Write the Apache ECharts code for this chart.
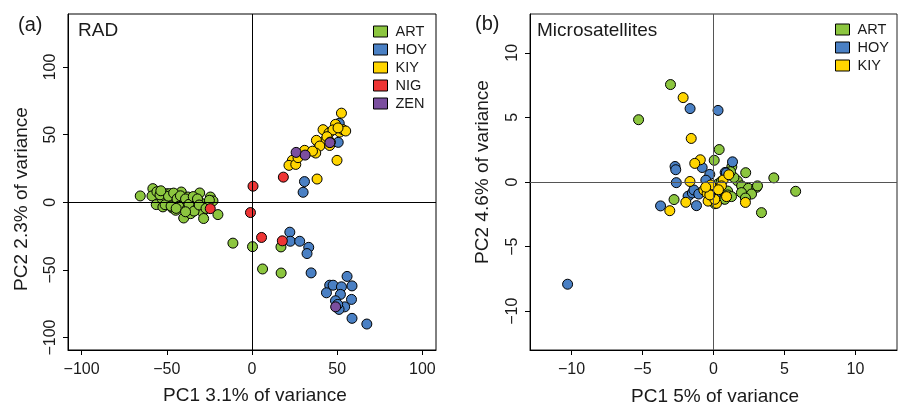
<!DOCTYPE html>
<html>
<head>
<meta charset="utf-8">
<script src="https://cdn.jsdelivr.net/npm/echarts@6/dist/echarts.min.js"></script>
<style>
  html, body { margin: 0; padding: 0; background: #fff; }
  #chart { width: 898px; height: 405px; }
</style>
</head>
<body>
<div id="chart"></div>
<script>
// nhóm mẫu và màu
const groupsRAD = ['ART', 'HOY', 'KIY', 'NIG', 'ZEN'];
const groupsMsat = ['ART', 'HOY', 'KIY'];
const groupColors = {ART: '#8cc63f', HOY: '#4a80c4', KIY: '#ffd500', NIG: '#ee3535', ZEN: '#7b4f9f'};

// tick của các trục
const radXTicks = [-100, -50, 0, 50, 100];
const radYTicks = [-100, -50, 0, 50, 100];
const msatXTicks = [-10, -5, 0, 5, 10];
const msatYTicks = [-10, -5, 0, 5, 10];

// (a) RAD: [PC1, PC2]
const radART = [
    [-65.6, 4.7], [-58.2, 10.1], [-58.7, 4.7], [-55.8, 7.8], [-56.2, -1.7], [-52.8, 2.7], [-52.3, -3.4],
    [-50.3, 6.4], [-49.7, -1], [-48.3, 6.4], [-47.3, 3.9], [-46.7, -4.2], [-45.4, 0.2], [-44.8, -5.9],
    [-41.5, 7.6], [-40.5, -1.7], [-40.1, -11.6], [-37.6, 3.9], [-36.6, 0.2], [-35.6, -3.4], [-36, -8.4],
    [-33.6, 1], [-32.6, -3.9], [-30.7, 6.9], [-30.1, -0.5], [-29.1, -7.2], [-28.4, -12], [-24.4, 3.9],
    [-22.9, 1], [-20, -9.1], [-54, 5.5], [-51, -1.8], [-49, 4.5], [-47.5, -2.8], [-46, 6.8], [-44, 2.5],
    [-43, -3], [-42, 4.8], [-39, 2.5], [-38, -5], [-37, -1.5], [-34.5, 4.2], [-34, -6.5], [-32, 2.5],
    [-31, -2], [-27, -4.5], [-25, 1.5], [-53.5, 8.5], [-44.5, -4.5], [-39, -7],
    [-11.2, -30.2], [0.3, -32.8], [6.2, -49.3], [17, -33], [17.1, -52.3]
];
const radHOY = [
    [51.2, 58.4], [50.6, 44.3], [39.2, 43.6], [30.8, 15.3], [30, 7.4],
    [22.2, -22.1], [22.5, -28.8], [28, -28.8], [33.3, -33.3], [32.3, -37.9], [34.7, -52.2],
    [55.8, -54.8], [45.6, -61.3], [47.6, -61.3], [52.5, -62.5], [58.7, -61.8], [43.7, -66.9],
    [51.9, -68.1], [58.4, -71.8], [49, -72.8], [54.4, -77.3], [51.1, -79.2], [58.7, -85.8],
    [67.4, -90], [50.3, -75.5]
];
const radKIY = [
    [52.5, 65.9], [41.7, 53.7], [49, 57.6], [45.2, 51.2], [43.3, 46.3], [51.5, 51.9], [53.4, 53.7],
    [55, 52.7], [37.8, 45.8], [39.8, 41.6], [37.4, 36.4], [30.9, 38.4], [23.7, 31], [21.7, 27.3],
    [25.7, 28], [49.9, 31], [38.2, 17.2], [45.6, 42], [47.5, 53.5], [44, 48.5], [35.5, 37.8],
    [50.5, 55], [46, 44.5], [27, 33]
];
const radNIG = [[-24.5, -4.7], [0.6, 11.9], [-0.9, -7.6], [5.6, -26], [17.8, -28.5], [18.4, 18.6]];
const radZEN = [[25.9, 36.9], [31.2, 34.9], [45.7, 44.1], [49.1, -77.3]];

// (b) Microsatellites: [PC1, PC2]
const msatART = [
    [-3.03, 7.54], [-5.28, 4.82], [0.4, 2.51], [0.05, 1.68], [1.29, 1.18], [2.27, 0.72], [4.25, 0.32],
    [5.79, -0.72], [3.38, -2.37], [-2.78, -1.36], [0.3, -0.16], [0.99, -0.7], [1.68, 0.1], [1.98, -0.3],
    [2.46, -0.49], [3.04, -0.41], [1.97, -0.82], [2.68, -0.93], [2.25, -1.24], [0.99, -1.0], [0.72, -1.3],
    [0.1, -1.68], [1.44, 0.35], [3.1, -0.3], [0.8, -1.34], [1.27, -1.13], [0.55, 0.05], [1.2, 0.8]
];
const msatHOY = [
    [-1.65, 5.68], [0.32, 5.54], [-10.28, -7.91], [-2.71, 1.2], [-2.66, 0.95], [-2.62, -0.05],
    [-0.8, 1.12], [-0.26, 0.59], [-0.54, 0.14], [1.34, 1.56], [0.82, 0.74], [-3.73, -1.85],
    [-1.2, -1.83], [-1.79, -1.1], [-1.49, -0.85], [-1.38, -0.62], [-1.04, -0.93], [-0.02, -0.81],
    [0.14, -0.95], [0.9, 0.7]
];
const msatKIY = [
    [-2.14, 6.53], [-1.57, 3.37], [-0.93, 1.72], [-1.32, 1.44], [-1.66, 0.04], [-3.08, -2.22],
    [-1.95, -1.57], [-0.68, -0.63], [-0.45, -0.88], [-0.19, -0.23], [-0.38, -1.48], [0.21, -1.65],
    [0.09, -1.34], [0.68, 0.15], [1.08, 0.56], [0.92, -1.13], [2.25, -1.58], [0.56, -0.3],
    [-0.26, -1.0], [-0.55, -0.4], [0.35, -0.6]
];

const FONT = "'Liberation Sans', Arial, Helvetica, sans-serif";
const TXT = '#1a1a1a';

function minusSign(v) {
    return String(v).replace('-', '\u2212');
}

function makeAxis(gridIndex, min, max, ticks, isY) {
    return {
        type: 'value',
        gridIndex: gridIndex,
        min: min,
        max: max,
        axisLine: {show: true, onZero: false, lineStyle: {color: '#000', width: 1}},
        splitLine: {show: false},
        axisTick: {show: true, inside: false, length: 5, customValues: ticks, lineStyle: {color: '#000', width: 1}},
        axisLabel: {
            customValues: ticks,
            margin: isY ? 9 : 12,
            rotate: isY ? 90 : 0,
            fontSize: 16,
            fontFamily: FONT,
            color: TXT,
            formatter: minusSign
        }
    };
}

function scatter(name, data, xi, yi) {
    return {
        name: name,
        type: 'scatter',
        xAxisIndex: xi,
        yAxisIndex: yi,
        data: data,
        symbol: 'circle',
        symbolSize: 10,
        z: 3,
        itemStyle: {color: groupColors[name], borderColor: '#000', borderWidth: 1, opacity: 1},
        emphasis: {disabled: true}
    };
}

function zeroLines(idx, color) {
    return {
        name: 'zero' + idx,
        type: 'line',
        xAxisIndex: idx,
        yAxisIndex: idx,
        data: [],
        z: 1,
        markLine: {
            silent: true,
            symbol: 'none',
            animation: false,
            label: {show: false},
            lineStyle: {color: color, width: 1, type: 'solid'},
            data: [{xAxis: 0}, {yAxis: 0}]
        }
    };
}

function txt(text, x, y, size, align, rot) {
    return {
        type: 'text',
        x: x,
        y: y,
        rotation: rot || 0,
        style: {
            text: text,
            fontSize: size,
            fontFamily: FONT,
            fill: TXT,
            align: align,
            textAlign: align,
            verticalAlign: 'middle',
            textVerticalAlign: 'middle'
        }
    };
}

const legendBase = {
    orient: 'vertical',
    icon: 'rect',
    padding: 0,
    itemWidth: 14,
    itemHeight: 11,
    itemGap: 3,
    selectedMode: false,
    itemStyle: {borderColor: '#000', borderWidth: 1},
    textStyle: {fontSize: 14.5, lineHeight: 14, fontFamily: FONT, color: TXT, padding: [0, 0, 0, 3]}
};

var chartDom = document.getElementById('chart');
var myChart = echarts.init(chartDom);
var option = {
    animation: false,
    backgroundColor: '#fff',
    grid: [
        {left: 68, top: 14, width: 368, height: 336, show: true, borderColor: '#000', borderWidth: 1, containLabel: false},
        {left: 530, top: 14, width: 367, height: 336, show: true, borderColor: '#222', borderWidth: 1, containLabel: false}
    ],
    xAxis: [
        makeAxis(0, -108, 108, radXTicks, false),
        makeAxis(1, -12.93, 12.93, msatXTicks, false)
    ],
    yAxis: [
        makeAxis(0, -109.2, 139.2, radYTicks, true),
        makeAxis(1, -13, 13, msatYTicks, true)
    ],
    legend: [
        Object.assign({}, legendBase, {data: groupsRAD, left: 373, top: 24}),
        Object.assign({}, legendBase, {data: groupsMsat, left: 835, top: 22})
    ],
    graphic: [
        txt('(a)', 18, 25, 20, 'left'),
        txt('RAD', 78, 31, 19, 'left'),
        txt('PC1 3.1% of variance', 255, 396, 19, 'center'),
        txt('PC2 2.3% of variance', 22, 199, 19, 'center', Math.PI / 2),
        txt('(b)', 475, 24, 20, 'left'),
        txt('Microsatellites', 537, 31, 19, 'left'),
        txt('PC1 5% of variance', 715, 397, 19, 'center'),
        txt('PC2 4.6% of variance', 483, 172, 19, 'center', Math.PI / 2)
    ],
    series: [
        zeroLines(0, '#000'),
        scatter('ART', radART, 0, 0),
        scatter('HOY', radHOY, 0, 0),
        scatter('KIY', radKIY, 0, 0),
        scatter('NIG', radNIG, 0, 0),
        scatter('ZEN', radZEN, 0, 0),
        zeroLines(1, '#555'),
        scatter('ART', msatART, 1, 1),
        scatter('HOY', msatHOY, 1, 1),
        scatter('KIY', msatKIY, 1, 1)
    ]
};
myChart.setOption(option);
</script>
</body>
</html>
